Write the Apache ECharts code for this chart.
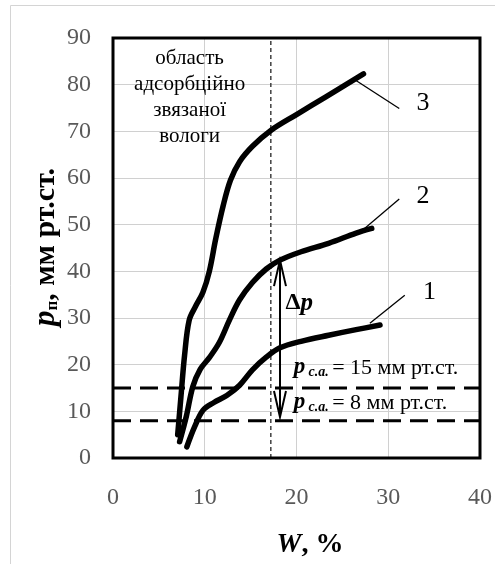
<!DOCTYPE html>
<html>
<head>
<meta charset="utf-8">
<script src="https://cdn.jsdelivr.net/npm/echarts@6/dist/echarts.min.js"></script>
<style>
  html, body { margin: 0; padding: 0; background: #fff; }
  #chart { width: 495px; height: 564px; }
</style>
</head>
<body>
<div id="chart"></div>
<script>
// Sorption isotherms: vapour pressure p (мм рт.ст.) against moisture W (%)
const curve1 = [[8.05, 2.4], [8.9, 6.7], [9.8, 10.2], [11.0, 11.9], [12.4, 13.4], [13.8, 15.6],
  [15.2, 18.9], [16.7, 21.6], [18.2, 23.6], [20.5, 25.0], [23.5, 26.3], [26.5, 27.5], [29.1, 28.5]];
const curve2 = [[7.26, 3.5], [8.0, 9.0], [8.7, 15.3], [9.5, 19.0], [10.5, 21.5], [11.6, 24.8],
  [12.7, 29.6], [13.8, 33.9], [15.2, 37.6], [16.7, 40.5], [18.2, 42.4], [20.5, 44.2],
  [23.5, 46.0], [26.5, 48.2], [28.2, 49.2]];
const curve3 = [[7.05, 5.0], [7.4, 13.0], [7.8, 22.0], [8.3, 29.5], [9.0, 32.5], [9.8, 35.5],
  [10.5, 40.0], [11.2, 47.0], [12.0, 54.0], [12.8, 59.5], [13.8, 63.5], [15.2, 66.8],
  [17.2, 70.2], [20.0, 73.6], [23.2, 77.4], [27.3, 82.3]];

// leader lines from each curve to its number
const leader1 = [[28.0, 28.9], [31.8, 34.9]];
const leader2 = [[27.0, 48.5], [31.2, 55.5]];
const leader3 = [[26.4, 81.0], [31.2, 74.9]];
const curveNames = ['1', '2', '3'];
const curveNamePos = [[34.5, 35.6], [33.8, 56.0], [33.8, 76.0]];

// saturation pressures (horizontal dashed lines) and boundary of bound moisture
const pSA = [15, 8];
const boundW = 17.2;
// Δp arrow between curve 2 and the lower saturation pressure
const deltaW = 18.2;
const deltaTop = 42.4;
const deltaBottom = 8.8;

const xMin = 0, xMax = 40, xStep = 10;
const yMin = 0, yMax = 90, yStep = 10;

const SERIF = '"Liberation Serif", "Times New Roman", serif';
const GRID_GRAY = '#d0d0d0';
const chart = echarts.init(document.getElementById('chart'));

function curveSeries(data) {
  return {
    type: 'line', data: data, symbol: 'none', smooth: 0.35,
    lineStyle: { color: '#000', width: 5.5, cap: 'round', join: 'round' }, z: 5
  };
}
function thinSeries(data, width, type, color) {
  return {
    type: 'line', data: data, symbol: 'none', silent: true,
    lineStyle: { color: color || '#000', width: width, type: type || 'solid' }, z: 4
  };
}

chart.setOption({
  animation: false,
  grid: { left: 113, top: 38, right: 13, bottom: 106 },
  xAxis: {
    type: 'value', min: xMin, max: xMax, interval: xStep,
    axisLine: { show: false }, axisTick: { show: false }, splitLine: { show: false },
    axisLabel: { margin: 28, color: '#595959', fontFamily: SERIF, fontSize: 24 }
  },
  yAxis: {
    type: 'value', min: yMin, max: yMax, interval: yStep,
    axisLine: { show: false }, axisTick: { show: false }, splitLine: { show: false },
    axisLabel: { margin: 22, color: '#595959', fontFamily: SERIF, fontSize: 24 }
  },
  series: [
    thinSeries([[boundW, yMin], [boundW, yMax]], 1.5, [4, 3], '#404040'),
    thinSeries([[xMin, pSA[0]], [xMax, pSA[0]]], 3, [18, 9]),
    thinSeries([[xMin, pSA[1]], [xMax, pSA[1]]], 3, [18, 9]),
    thinSeries(leader1, 1.3),
    thinSeries(leader2, 1.3),
    thinSeries(leader3, 1.3),
    curveSeries(curve1),
    curveSeries(curve2),
    curveSeries(curve3)
  ]
});

function px(w, p) { return chart.convertToPixel({ gridIndex: 0 }, [w, p]); }
function crisp(v) { return Math.round(v - 0.5) + 0.5; }

const elements = [];
// outer chart frame (stroke only)
elements.push({ type: 'polyline', shape: { points: [[10.5, 600], [10.5, 5.5], [600, 5.5]] },
  style: { fill: null, stroke: '#d4d4d4', lineWidth: 1 }, z: 0, silent: true });

// interior grid lines at the major ticks, snapped to whole pixels
const c0 = px(xMin, yMax), c1 = px(xMax, yMin);
for (let w = xMin + xStep; w < xMax; w += xStep) {
  const x = crisp(px(w, yMin)[0]);
  elements.push({ type: 'line', z: 1, silent: true, shape: { x1: x, y1: c0[1], x2: x, y2: c1[1] },
    style: { stroke: GRID_GRAY, lineWidth: 1 } });
}
for (let p = yMin + yStep; p < yMax; p += yStep) {
  const y = crisp(px(xMin, p)[1]);
  elements.push({ type: 'line', z: 1, silent: true, shape: { x1: c0[0], y1: y, x2: c1[0], y2: y },
    style: { stroke: GRID_GRAY, lineWidth: 1 } });
}

// plot area frame (stroke only)
elements.push({ type: 'polygon',
  shape: { points: [[c0[0], c0[1]], [c1[0], c0[1]], [c1[0], c1[1]], [c0[0], c1[1]]] },
  style: { fill: null, stroke: '#000', lineWidth: 3 }, z: 15, silent: true });

// curve numbers
curveNames.forEach(function (n, i) {
  const c = px(curveNamePos[i][0], curveNamePos[i][1]);
  elements.push({ type: 'text', x: c[0], y: c[1], z: 20,
    style: { text: n, font: '26px ' + SERIF, fill: '#000', align: 'center', verticalAlign: 'middle' } });
});

// region caption
const rc = px(8.35, 77.3);
elements.push({ type: 'text', x: rc[0], y: rc[1], z: 20,
  style: { text: 'область\nадсорбційно\nзвязаної\nвологи', font: '21px ' + SERIF, fill: '#000',
    align: 'center', verticalAlign: 'middle', lineHeight: 26 } });

// Δp arrow
const aTop = px(deltaW, deltaTop), aBot = px(deltaW, deltaBottom);
elements.push({ type: 'line', z: 20, shape: { x1: aTop[0], y1: aTop[1], x2: aBot[0], y2: aBot[1] },
  style: { stroke: '#000', lineWidth: 2 } });
elements.push({ type: 'polyline', z: 20,
  shape: { points: [[aTop[0] - 6, aTop[1] + 26], aTop, [aTop[0] + 6, aTop[1] + 26]] },
  style: { stroke: '#000', lineWidth: 2, fill: null } });
elements.push({ type: 'polyline', z: 20,
  shape: { points: [[aBot[0] - 6, aBot[1] - 26], aBot, [aBot[0] + 6, aBot[1] - 26]] },
  style: { stroke: '#000', lineWidth: 2, fill: null } });
const dl = px(20.3, 33.2);
elements.push({ type: 'text', x: dl[0], y: dl[1], z: 20,
  style: { text: '{d|Δ}{p|p}', align: 'center', verticalAlign: 'middle',
    rich: {
      d: { font: 'bold 24px ' + SERIF, fill: '#000' },
      p: { font: 'italic bold 25px ' + SERIF, fill: '#000' }
    } } });

// saturation pressure captions
const saRich = {
  p: { font: 'italic bold 23px ' + SERIF, fill: '#000', verticalAlign: 'bottom', lineHeight: 24 },
  s: { font: 'italic bold 14px ' + SERIF, fill: '#000', verticalAlign: 'bottom', lineHeight: 12 },
  t: { font: '22px ' + SERIF, fill: '#000', verticalAlign: 'bottom', lineHeight: 24 }
};
const saPos = [[19.7, 19.5], [19.7, 12.0]];
pSA.forEach(function (v, i) {
  const c = px(saPos[i][0], saPos[i][1]);
  elements.push({ type: 'text', x: c[0], y: c[1], z: 20,
    style: { text: '{p|p} {s|с.а.} {t|= ' + v + ' мм рт.ст.}', align: 'left', verticalAlign: 'middle', rich: saRich } });
});

// axis titles
elements.push({ type: 'text', x: 45, y: 247, rotation: Math.PI / 2, z: 20,
  style: { text: '{p|p}{s|п}{t|, мм рт.ст.}', align: 'center', verticalAlign: 'middle',
    rich: {
      p: { font: 'italic bold 31px ' + SERIF, fill: '#000', verticalAlign: 'bottom', lineHeight: 32 },
      s: { font: 'bold 17px ' + SERIF, fill: '#000', verticalAlign: 'bottom', lineHeight: 17 },
      t: { font: 'bold 30px ' + SERIF, fill: '#000', verticalAlign: 'bottom', lineHeight: 32 }
    } } });
elements.push({ type: 'text', x: 310, y: 545, z: 20,
  style: { text: '{w|W}{t|, %}', align: 'center', verticalAlign: 'middle',
    rich: {
      w: { font: 'italic bold 28px ' + SERIF, fill: '#000' },
      t: { font: 'bold 28px ' + SERIF, fill: '#000' }
    } } });

chart.setOption({ graphic: { elements: elements } });
</script>
</body>
</html>
